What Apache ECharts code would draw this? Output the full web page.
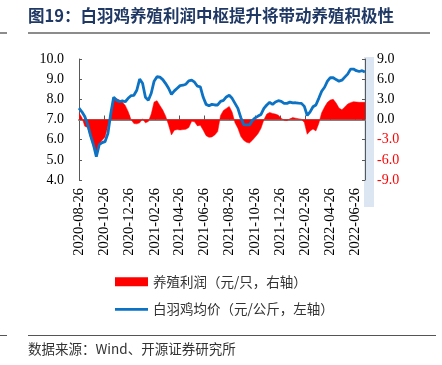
<!DOCTYPE html>
<html><head><meta charset="utf-8">
<script src="https://cdn.jsdelivr.net/npm/echarts@6/dist/echarts.min.js"></script>
<style>html,body{margin:0;padding:0;background:#fff;}#c{width:442px;height:365px;}</style>
</head><body><div id="c"></div>
<script>
// weekly samples starting 2020-08-26
const startDate = '2020-08-26';
const tickDates = ['2020-08-26','2020-10-26','2020-12-26','2021-02-26','2021-04-26','2021-06-26','2021-08-26','2021-10-26','2021-12-26','2022-02-26','2022-04-26','2022-06-26'];
const priceName = '白羽鸡均价（元/公斤，左轴）';
const profitName = '养殖利润（元/只，右轴）';
const price = [7.56,7.38,7.15,6.75,6.2,5.75,5.16,5.75,5.85,5.9,
  6.3,7.3,8.1,7.95,7.88,7.92,7.88,8.05,8.18,8.2,
  8.45,9.0,8.8,8.1,7.95,8.3,8.9,9.12,9.1,8.98,
  8.78,8.55,8.25,8.42,8.55,8.68,8.7,8.75,8.92,8.95,
  8.85,8.65,8.62,8.1,7.75,7.68,7.75,7.72,7.72,7.9,
  7.95,8.12,8.2,8.05,7.8,7.55,7.1,6.75,6.73,6.73,
  6.95,7.08,7.17,7.25,7.55,7.72,7.85,7.75,7.87,7.93,
  7.9,7.8,7.8,7.86,7.82,7.83,7.81,7.8,7.65,7.2,
  7.38,7.63,7.72,8.05,8.4,8.6,8.9,9.08,9.07,8.98,
  8.9,8.95,9.1,9.25,9.5,9.5,9.42,9.38,9.42,9.35];
const profit = [1.0,0.3,-1.0,-1.2,-2.7,-4.1,-5.0,-3.6,-3.1,-2.6,
  -1.0,0.8,3.3,3.1,2.9,2.6,2.1,1.2,0.0,-0.6,
  -0.65,-0.5,0.1,-0.5,-0.3,0.8,2.6,2.8,2.1,1.4,
  0.5,-0.8,-2.3,-1.6,-1.5,-1.55,-1.5,-1.45,-1.2,-0.25,
  -0.35,-0.95,-0.85,-1.6,-2.4,-2.65,-2.6,-2.3,-1.8,0.6,
  1.35,1.65,1.95,1.1,-0.5,-1.3,-2.5,-3.1,-3.4,-3.5,
  -3.1,-2.6,-2.1,-1.3,-0.05,0.8,1.05,0.9,0.8,0.65,
  0.2,-0.1,-0.15,0.1,0.28,0.2,0.1,0.05,-0.45,-2.2,
  -1.7,-1.4,-1.7,-0.6,1.0,1.85,2.55,2.9,3.0,2.45,
  1.7,1.45,1.85,2.3,2.5,2.65,2.6,2.55,2.55,2.55];

const DAY = 86400000;
const t0 = new Date(startDate + 'T00:00:00Z').getTime();
const dates = price.map((_, i) => t0 + i * 7 * DAY);
const tickTimes = tickDates.map(d => new Date(d + 'T00:00:00Z').getTime());
const fmtDate = v => { const d = new Date(v); const p = n => String(n).padStart(2,'0');
  return d.getUTCFullYear() + '-' + p(d.getUTCMonth()+1) + '-' + p(d.getUTCDate()); };

const serif = '"Liberation Serif","Times New Roman",serif';
const cjk = '"Noto Sans CJK SC","Liberation Serif",serif';

const chart = echarts.init(document.getElementById('c'), null, {renderer:'canvas'});
chart.setOption({
  animation: false,
  backgroundColor: '#fff',
  graphic: [
    {type:'text', left:28, top:7, style:{text:'图19：白羽鸡养殖利润中枢提升将带动养殖积极性', fill:'#1F3864', font:'bold 16.5px ' + cjk}},
    {type:'rect', shape:{x:0,y:32,width:7,height:2}, style:{fill:'#8c8c8c'}},
    {type:'rect', shape:{x:28,y:32,width:402,height:2}, style:{fill:'#8c8c8c'}},
    {type:'rect', shape:{x:0,y:335,width:7,height:1}, style:{fill:'#555'}},
    {type:'rect', shape:{x:28,y:335,width:408,height:1}, style:{fill:'#555'}},
    {type:'text', left:28, top:342, style:{text:'数据来源：Wind、开源证券研究所', fill:'#333', font:'13.5px ' + cjk}},
    {type:'rect', z:-10, shape:{x:364,y:57,width:10,height:150}, style:{fill:'#dce6f2'}}
  ],
  legend: {
    orient: 'vertical', left: 110, top: 270, itemWidth: 33, itemHeight: 9, itemGap: 14,
    textStyle: {fontFamily: cjk, fontSize: 13.5, color: '#333'},
    data: [{name: profitName, icon: 'rect'},
           {name: priceName, icon: 'path://M0,0L0.01,0L0,0Z M0,3.3L33,3.3L33,6L0,6Z M33,9L32.99,9L33,9Z'}]
  },
  grid: {left: 79, right: 77, top: 59, bottom: 185, containLabel: false},
  xAxis: {
    type: 'value', min: dates[0], max: dates[dates.length-1],
    axisLine: {lineStyle: {color: '#7f7f7f', width: 2}},
    axisTick: {inside: true, length: 4, lineStyle:{color:'#555'}, customValues: tickTimes},
    axisLabel: {rotate: 90, margin: 8, fontFamily: serif, fontSize: 14.5, color: '#000',
      customValues: tickTimes, formatter: v => fmtDate(v), hideOverlap: false},
    splitLine: {show: false}
  },
  yAxis: [
    {type:'value', min:4, max:10, interval:1,
      axisLine:{show:true, lineStyle:{color:'#595959'}},
      axisTick:{show:true, inside:true, length:3, lineStyle:{color:'#595959'}},
      axisLabel:{margin:15, fontFamily:serif, fontSize:14, color:'#000', formatter: v => v.toFixed(1)},
      splitLine:{show:false}},
    {type:'value', min:-9, max:9, interval:3, position:'right',
      axisLine:{show:true, lineStyle:{color:'#595959'}},
      axisTick:{show:true, inside:true, length:3, lineStyle:{color:'#595959'}},
      axisLabel:{margin:12, fontFamily:serif, fontSize:14,
        color: v => (v < 0 ? '#FF0000' : '#000'), formatter: v => v.toFixed(1)},
      splitLine:{show:false}}
  ],
  series: [
    {name: profitName, type:'line', yAxisIndex:1, symbol:'none', smooth:false,
      data: dates.map((d,i)=>[d, profit[i]]),
      lineStyle:{width:0.5, color:'#FF0000'}, itemStyle:{color:'#FF0000'},
      areaStyle:{color:'#FF0000', opacity:1, origin:0}},
    {name: priceName, type:'line', yAxisIndex:0, symbol:'none', smooth:false,
      data: dates.map((d,i)=>[d, price[i]]),
      lineStyle:{width:2.8, color:'#0B72C4'}, itemStyle:{color:'#0B72C4'}}
  ]
});
</script></body></html>
